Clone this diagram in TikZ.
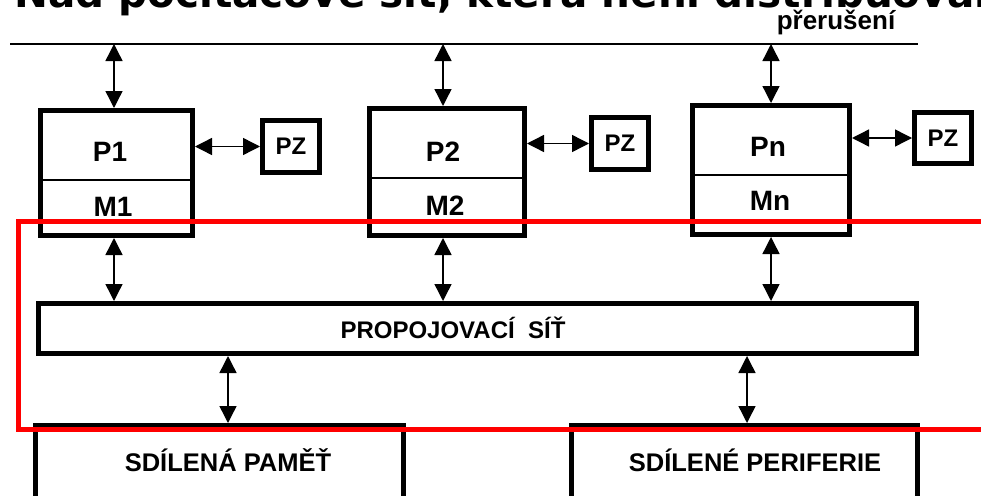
\documentclass[tikz,border=0pt]{standalone}
\usepackage{fontspec}
\setmainfont{Liberation Sans}
\newfontfamily\nadpisfont{DejaVu Sans}
\usetikzlibrary{arrows.meta}

\begin{document}
\begin{tikzpicture}[x=1pt,y=-1pt]
  % Definice stylů
  \tikzset{
    ram/.style={draw, line width=5pt, inner sep=0pt},
    obousmer/.style={{Triangle[length=17pt,width=17pt]}-{Triangle[length=17pt,width=17pt]}, line width=1.4pt},
    napis/.style={font=\bfseries\fontsize{28}{30}\selectfont, inner sep=0pt},
    maly/.style={font=\bfseries\fontsize{24}{26}\selectfont, inner sep=0pt},
    dolni/.style={font=\bfseries\fontsize{25.5}{27}\selectfont, inner sep=0pt},
    nadpis/.style={font=\nadpisfont\bfseries\fontsize{40.5}{44}\selectfont, inner sep=0pt}
  }
  \useasboundingbox (0,0) rectangle (981,495);
  \clip (0,0) rectangle (981,495);

  % Nadpis (oříznutý) a sběrnice přerušení
  \node[nadpis, anchor=base west] (titul) at (14,8) {Nad počítačové síť, která není distribuovaná};
  \node[maly, font=\bfseries\fontsize{26}{28}\selectfont, anchor=base] (preruseni) at (836,30) {přerušení};
  \coordinate (l1) at (10,44);
  \coordinate (l2) at (918,44);
  \draw[line width=2pt] (l1) -- (l2);

  % Procesory s lokální pamětí
  \node[ram, minimum width=152pt, minimum height=125pt] (u1) at (116.5,173) {};
  \node[ram, minimum width=155pt, minimum height=127pt] (u2) at (447,172) {};
  \node[ram, minimum width=157pt, minimum height=129pt] (u3) at (771,170) {};
  \coordinate (d1) at (0,180);
  \coordinate (d2) at (0,178);
  \coordinate (d3) at (0,175);
  \draw[line width=2pt] (u1.west |- d1) -- (u1.east |- d1);
  \draw[line width=2pt] (u2.west |- d2) -- (u2.east |- d2);
  \draw[line width=2pt] (u3.west |- d3) -- (u3.east |- d3);
  \node[napis] (p1) at (110,152) {P1};
  \node[napis] (m1) at (113,207) {M1};
  \node[napis] (p2) at (443,152) {P2};
  \node[napis] (m2) at (445,206) {M2};
  \node[napis] (pn) at (768,147) {Pn};
  \node[napis] (mn) at (770,201) {Mn};

  % Paměti PZ
  \node[ram, minimum width=57pt, minimum height=52pt, maly] (pz1) at (291,146.5) {PZ};
  \node[ram, minimum width=57pt, minimum height=52pt, maly] (pz2) at (620,143.5) {PZ};
  \node[ram, minimum width=57pt, minimum height=51pt, maly] (pz3) at (943,138) {PZ};
  \draw[obousmer] (u1.east |- pz1.west) -- (pz1.west);
  \draw[obousmer] (u2.east |- pz2.west) -- (pz2.west);
  \draw[obousmer] (u3.east |- pz3.west) -- (pz3.west);

  % Propojovací síť a sdílené prostředky
  \node[ram, minimum width=878pt, minimum height=50pt] (net) at (477.5,328.5) {};
  \node[maly] (nettext) at (453,328) {PROPOJOVACÍ\ \ SÍŤ};
  \node[ram, minimum width=368pt, minimum height=94.5pt] (sm) at (219.5,472.75) {};
  \node[ram, minimum width=346pt, minimum height=94.5pt] (sp) at (744.5,472.75) {};
  \node[dolni] (smtext) at (228,460) {SDÍLENÁ PAMĚŤ};
  \node[dolni] (sptext) at (755,460) {SDÍLENÉ PERIFERIE};

  % Spoje
  \coordinate (s1) at (114,44);
  \coordinate (s2) at (443,44);
  \coordinate (s3) at (771,44);
  \draw[obousmer] (s1) -- (s1 |- u1.north);
  \draw[obousmer] (s2) -- (s2 |- u2.north);
  \draw[obousmer] (s3) -- (s3 |- u3.north);
  \draw[obousmer] (s1 |- u1.south) -- (s1 |- net.north);
  \draw[obousmer] (s2 |- u2.south) -- (s2 |- net.north);
  \draw[obousmer] (s3 |- u3.south) -- (s3 |- net.north);
  \coordinate (b1) at (228,0);
  \coordinate (b2) at (747,0);
  \draw[obousmer] (b1 |- net.south) -- (b1 |- sm.north);
  \draw[obousmer] (b2 |- net.south) -- (b2 |- sp.north);

  % Červené zvýraznění
  \draw[red, line width=5pt] (990,221) -- (18,221) -- (18,429.5) -- (990,429.5);
\end{tikzpicture}
\end{document}
